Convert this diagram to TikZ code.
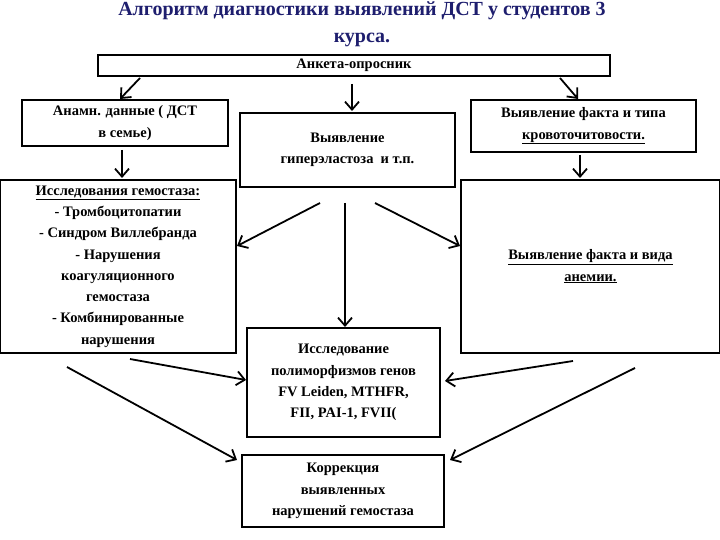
\documentclass[tikz,border=0pt]{standalone}
\usepackage{fontspec}
\setmainfont{Liberation Serif}
\usetikzlibrary{arrows.meta}
\definecolor{ttl}{RGB}{30,30,110}
\begin{document}
\begin{tikzpicture}[x=1pt,y=-1pt,
  box/.style={draw,line width=1.6pt,align=center,font=\bfseries\fontsize{14.5}{21.3}\selectfont,inner sep=1pt},
  arr/.style={line width=1.8pt,-{Straight Barb[length=8pt,width=14pt,line width=1.8pt]}}]
\useasboundingbox (0,0) rectangle (720,540);
\node[font=\bfseries\fontsize{20}{27}\selectfont,text=ttl,align=center] (title) at (362,24) {Алгоритм диагностики выявлений ДСТ у студентов 3\\курса.};
\node[box,minimum width=512,minimum height=21] (ank) at (354,65.5) {Анкета-опросник};
\node[box,minimum width=206,minimum height=46] (anam) at (125,123) {Анамн. данные ( ДСТ\\в семье)};
\node[box,minimum width=215,minimum height=74] (gip) at (347.5,150) {Выявление\\гиперэластоза\ \ и т.п.};
\node[box,minimum width=225,minimum height=52] (krov) at (583.5,126) {Выявление факта и типа\\\underline{кровоточитовости.}};
\node[box,minimum width=236,minimum height=173,inner sep=0pt] (gem) at (118,266.5) {\underline{Исследования гемостаза:}\\- Тромбоцитопатии\\- Синдром Виллебранда\\- Нарушения\\коагуляционного\\гемостаза\\- Комбинированные\\нарушения};
\node[box,minimum width=259,minimum height=173] (anem) at (590.5,266.5) {\underline{Выявление факта и вида}\\\underline{анемии.}};
\node[box,minimum width=193,minimum height=109] (pol) at (343.5,382.5) {Исследование\\полиморфизмов генов\\FV Leiden, MTHFR,\\FII, PAI-1, FVII(};
\node[box,minimum width=202,minimum height=72] (kor) at (343,491) {Коррекция\\выявленных\\нарушений гемостаза};
\coordinate (a1) at (140,78); \coordinate (a2) at (352,84); \coordinate (a3) at (560,78);
\draw[arr] (a1) -- (120,99);
\draw[arr] (a2) -- (352,111);
\draw[arr] (a3) -- (578,99);
\draw[arr] (122,150) -- (122,178);
\draw[arr] (580,155) -- (580,178);
\draw[arr] (320,203) -- (237,246);
\draw[arr] (345,203) -- (345,327);
\draw[arr] (375,203) -- (460,246);
\draw[arr] (130,359) -- (246,380);
\draw[arr] (67,367) -- (237,460);
\draw[arr] (573,361) -- (445,381);
\draw[arr] (635,368) -- (450,460);
\end{tikzpicture}
\end{document}
